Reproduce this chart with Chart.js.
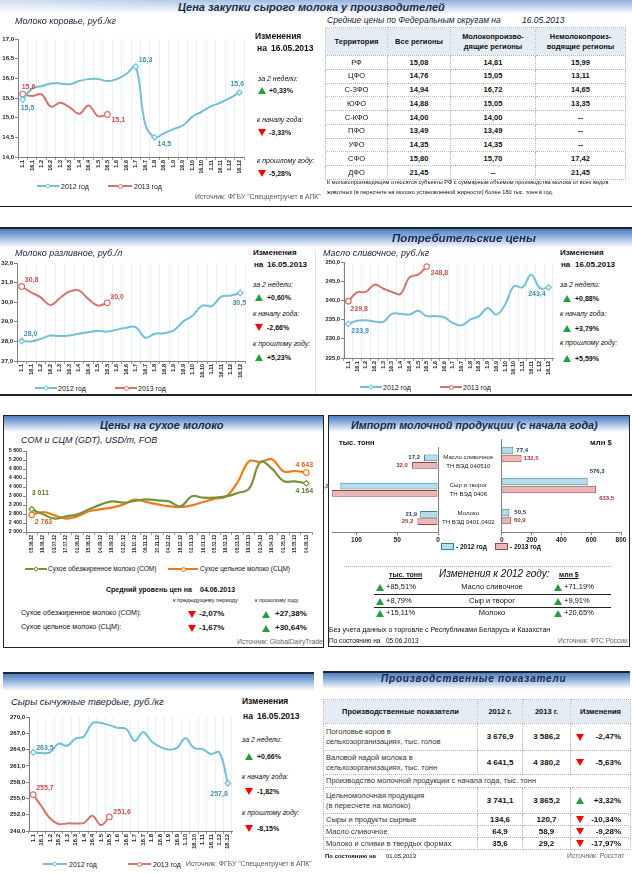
<!DOCTYPE html>
<html lang="ru"><head><meta charset="utf-8">
<script src="https://cdn.jsdelivr.net/npm/chart.js@4.4.1/dist/chart.umd.min.js"></script>
<style>
html,body{margin:0;padding:0;background:#fff;}
#page{position:relative;width:632px;height:873px;overflow:hidden;font-family:'Liberation Sans',Arial,sans-serif;color:#111;}
.a{position:absolute;white-space:nowrap;line-height:1;}
#page canvas{position:absolute;}
table.tb{position:absolute;border-collapse:collapse;table-layout:fixed;font-family:'Liberation Sans',Arial,sans-serif;color:#111;}
table.tb td{border:1px dotted #B5B5B5;padding:0;text-align:center;vertical-align:middle;white-space:nowrap;overflow:hidden;line-height:1.25;}
table.tb tr.h td{background:#E4ECF6;font-weight:bold;}
table.tb td.v{font-weight:bold;}
</style></head>
<body><div id="page">
<canvas id="cCow" width="250" height="140" style="left:0;top:33px"></canvas>
<canvas id="cBottle" width="250" height="128" style="left:0;top:257px"></canvas>
<canvas id="cButter" width="240" height="124" style="left:318px;top:256px"></canvas>
<canvas id="cDry" width="314" height="115" style="left:4px;top:445px"></canvas>
<canvas id="cImpL" width="176" height="112" style="left:324px;top:435px"></canvas>
<canvas id="cImpR" width="131" height="112" style="left:499px;top:435px"></canvas>
<canvas id="cCheese" width="238" height="150" style="left:0;top:711px"></canvas>
</div>
<script>
// ---------------- DATA ----------------
const halfMonths = ['1.1','16.1','1.2','16.2','1.3','16.3','1.4','16.4','1.5','16.5','1.6','16.6','1.7','16.7','1.8','16.8','1.9','16.9','1.10','16.10','1.11','16.11','1.12','16.12'];

const cowMilk2012 = [15.46,15.74,15.80,15.87,15.87,15.85,15.93,15.98,15.98,15.93,15.98,16.11,16.30,14.85,14.50,14.60,14.71,14.80,15.02,15.15,15.29,15.38,15.50,15.64];
const cowMilk2013 = [15.60,15.55,15.59,15.28,15.38,15.26,15.10,15.31,15.04,15.08];

const bottledMilk2012 = [28.02,28.00,28.13,28.30,28.27,28.30,28.39,28.47,28.53,28.50,28.60,28.70,28.73,28.19,28.39,28.42,28.56,29.02,29.32,29.83,29.80,30.29,30.34,30.47];
const bottledMilk2013 = [30.80,30.50,30.25,29.86,30.20,30.54,30.60,30.17,29.83,29.97];

const butter2012 = [233.9,234.7,234.8,234.5,234.4,236.5,236.5,236.3,237.3,235.9,235.9,235.6,234.1,233.5,235.0,235.9,238.0,236.3,238.9,243.7,243.4,246.7,243.2,243.4];
const butter2013 = [239.8,242.1,242.2,244.1,243.1,242.2,241.7,246.0,246.7,248.8];

const cheese2012 = [263.5,263.35,263.5,265.1,264.7,266.0,266.4,268.9,268.9,268.5,268.0,267.8,265.6,267.2,265.5,264.5,264.0,264.3,266.1,264.3,264.1,263.2,263.5,257.8];
const cheese2013 = [255.7,253.5,251.3,250.3,250.4,250.4,250.5,251.8,250.1,251.6];

const gdtDates = ['05.06.12','19.06.12','03.07.12','17.07.12','01.08.12','15.08.12','04.09.12','18.09.12','02.10.12','16.10.12','06.11.12','20.11.12','04.12.12','18.12.12','02.01.13','16.01.13','05.02.13','19.02.13','05.03.13','19.03.13','02.04.13','16.04.13','01.05.13','15.05.13','04.06.13'];
const smpPrice = [3011,2785,2593,2696,2785,3007,3215,3363,3304,3378,3452,3407,3363,3141,3585,3526,3526,3585,3733,3926,5111,4815,4267,4252,4164];
const wmpPrice = [2763,2889,2741,2593,2696,2919,3007,3081,3215,3437,3333,3230,3141,3111,3185,3333,3481,3585,4222,5141,5111,5230,4696,4711,4643];

const importCategories = [['Масло сливочное','ТН ВЭД 040510'],['Сыр и творог','ТН ВЭД 0406'],['Молоко','ТН ВЭД 0401,0402']];
const importTons2012 = [17.2,119.8,21.9];
const importTons2013 = [32.0,130.3,25.2];
const importUsd2012 = [77.4,576.3,50.5];
const importUsd2013 = [132.5,633.5,60.9];
const importNames = ['Масло сливочное','Сыр и творог','Молоко'];
const importTonsChange = ['+85,51%','+8,79%','+15,11%'];
const importUsdChange = ['+71,19%','+9,91%','+20,65%'];

const fedDistricts = ['РФ','ЦФО','С-ЗФО','ЮФО','С-КФО','ПФО','УФО','СФО','ДФО'];
const priceAllRegions = ['15,08','14,76','14,94','14,88','14,00','13,49','14,35','15,80','21,45'];
const priceMilkRegions = ['14,81','15,05','16,72','15,05','14,00','13,49','14,35','15,70','--'];
const priceNonMilkRegions = ['15,99','13,11','14,65','13,35','--','--','--','17,42','21,45'];

const prodIndicators = ['Поголовье коров в\nсельхозорганизациях, тыс. голов','Валовой надой молока в\nсельхозорганизациях, тыс. тонн','Производство молочной продукции с начала года, тыс. тонн','Цельномолочная продукция\n(в пересчете на молоко)','Сыры и продукты сырные','Масло сливочное','Молоко и сливки в твердых формах'];
const prod2012 = ['3 676,9','4 641,5',null,'3 741,1','134,6','64,9','35,6'];
const prod2013 = ['3 586,2','4 380,2',null,'3 865,2','120,7','58,9','29,2'];
const prodChange = ['-2,47%','-5,63%',null,'+3,32%','-10,34%','-9,28%','-17,97%'];

// ---------------- STYLE ----------------
const BLUE='#72C0D8', BLUEL='#3B92B2', RED='#D4736E', REDL='#C0504D';
const GREEN='#76923C', GREENL='#5E7A2E', ORANGE='#F07A1A', ORANGEL='#D2601A';
const NAVY='#1A2B4C';
const GRAD='linear-gradient(to bottom,#4F7FBE 0%,#7FA3D6 30%,#BFD2EC 65%,#FFFFFF 100%)';

const page=document.getElementById('page');
function R(x,y,w,h,bg,extra){const d=document.createElement('div');d.style.cssText=`position:absolute;left:${x}px;top:${y}px;width:${w}px;height:${h}px;`+(bg?`background:${bg};`:'')+(extra||'');page.insertBefore(d,page.firstChild);return d;}
function T(x,yc,txt,size,o){o=o||{};const d=document.createElement('div');d.className='a';d.textContent=txt;d.style.fontSize=size+'px';d.style.top=(yc-size*0.5)+'px';
 if(o.align==='center'){d.style.left=(x-300)+'px';d.style.width='600px';d.style.textAlign='center';}
 else if(o.align==='right'){d.style.right=(632-x)+'px';} else d.style.left=x+'px';
 if(o.b)d.style.fontWeight='bold'; if(o.i)d.style.fontStyle='italic'; if(o.c)d.style.color=o.c; if(o.u)d.style.textDecoration='underline'; if(o.ls)d.style.letterSpacing=o.ls+'px';
 page.appendChild(d);return d;}
function tri(x,yc,up){const d=document.createElement('div');d.style.cssText=`position:absolute;left:${x}px;top:${yc-3.5}px;width:0;height:0;border-left:4px solid transparent;border-right:4px solid transparent;`+(up?'border-bottom:7px solid #1FA23C;':'border-top:7px solid #FF0000;');page.appendChild(d);}
function leg(x,yc,w,color,mk){const l=document.createElement('div');l.style.cssText=`position:absolute;left:${x}px;top:${yc-0.8}px;width:${w}px;height:1.6px;background:${color};`;page.appendChild(l);
 const m=document.createElement('div');
 if(mk==='d'){m.style.cssText=`position:absolute;left:${x+w/2-2}px;top:${yc-2}px;width:4px;height:4px;box-sizing:border-box;border:1px solid ${color};background:#fff;transform:rotate(45deg);`;}
 else {m.style.cssText=`position:absolute;left:${x+w/2-2.5}px;top:${yc-2.5}px;width:5px;height:5px;box-sizing:border-box;border:1px solid ${color};background:#fff;border-radius:50%;`;}
 page.appendChild(m);}

// ---------------- FRAME ----------------
R(0,0,632,14,null,'background:linear-gradient(to right,rgba(255,255,255,0.6),rgba(255,255,255,0) 60%),linear-gradient(to bottom,#8FB0DD,#FFFFFF);');
R(0,206,632,1,'#111');
R(0,227,632,2,'#1B2433'); R(0,229,632,19,GRAD);
R(315,250,1,144,'#DCE6F2');
R(0,394,632,1.5,'#222');
R(3,415,321,233,null,'box-sizing:border-box;border:1px solid #222;');
R(4,416,319,16,GRAD);
R(328,415,302,232,null,'box-sizing:border-box;border:1px solid #222;');
R(329,416,300,16,GRAD);
R(3,672,311,2,'#1B2433'); R(3,674,311,17,GRAD);
R(323,671,307,2,'#1B2433'); R(323,673,307,16,GRAD);

// ---------------- CHARTS ----------------
Chart.defaults.font.family="'Liberation Sans', Arial, sans-serif";
Chart.defaults.color='#222';
const FMT={d1:v=>Number(v).toFixed(1).replace('.',','),th:v=>String(Math.round(v)).replace(/\B(?=(\d{3})+(?!\d))/g,' '),int:v=>String(v)};
const marks=(n,idx,r)=>Array.from({length:n},(_,k)=>idx.includes(k)?r:0);

const LBL={
 cCow:{font:'bold 7px "Liberation Sans"',fmt:'d1',items:[{ds:0,i:0,dx:-2,dy:8},{ds:0,i:12,dx:3,dy:-6},{ds:0,i:14,dx:3,dy:7},{ds:0,i:23,dx:-2,dy:-8,al:'center'},{ds:1,i:0,dx:-1,dy:-7},{ds:1,i:9,dx:4,dy:6}]},
 cBottle:{font:'bold 7px "Liberation Sans"',fmt:'d1',items:[{ds:0,i:0,dx:2,dy:-7},{ds:1,i:0,dx:3,dy:-6},{ds:1,i:9,dx:3,dy:-6},{ds:0,i:23,dx:-1,dy:10,al:'center'}]},
 cButter:{font:'bold 7px "Liberation Sans"',fmt:'d1',items:[{ds:0,i:0,dx:3,dy:7},{ds:1,i:0,dx:2,dy:8},{ds:1,i:9,dx:4,dy:6},{ds:0,i:23,dx:-3,dy:7,al:'right'}]},
 cDry:{font:'bold 7px "Liberation Sans"',fmt:'th',items:[{ds:0,i:0,dx:0,dy:-16},{ds:1,i:0,dx:3,dy:7},{ds:1,i:24,dx:-2,dy:-7,al:'center'},{ds:0,i:24,dx:-2,dy:8,al:'center'}]},
 cCheese:{font:'bold 7px "Liberation Sans"',fmt:'d1',items:[{ds:0,i:0,dx:3,dy:-4},{ds:1,i:0,dx:3,dy:-7},{ds:1,i:9,dx:4,dy:-5},{ds:0,i:23,dx:0,dy:11,al:'right'}]},
 cImpL:{font:'bold 6px "Liberation Sans"',fmt:'d1',items:[{ds:0,i:0,dx:-4,dy:-1,al:'right'},{ds:1,i:0,dx:-4,dy:0,al:'right'},{ds:0,i:1,dx:-11,dy:0,al:'right'},{ds:0,i:2,dx:-3,dy:0,al:'right'},{ds:1,i:2,dx:-4,dy:0,al:'right'}]},
 cImpR:{font:'bold 6px "Liberation Sans"',fmt:'d1',items:[{ds:0,i:0,dx:3,dy:0},{ds:1,i:0,dx:2,dy:0},{ds:0,i:1,dx:2,dy:-10},{ds:1,i:1,dx:3,dy:9},{ds:0,i:2,dx:5,dy:0},{ds:1,i:2,dx:3,dy:0}]}
};
Chart.register({id:'valueLabels',afterDatasetsDraw(chart){
 const cfg=LBL[chart.canvas.id]; if(!cfg)return; const ctx=chart.ctx; ctx.save(); ctx.font=cfg.font; ctx.textBaseline='middle';
 cfg.items.forEach(it=>{const ds=chart.data.datasets[it.ds]; const el=chart.getDatasetMeta(it.ds).data[it.i]; if(!el)return;
  ctx.fillStyle=ds.labelColor; ctx.textAlign=it.al||'left'; ctx.fillText(FMT[cfg.fmt](ds.data[it.i]),el.x+it.dx,el.y+it.dy);});
 ctx.restore();}});

function lineSet(data,color,lcolor,style,idx,r,lw){return {data,borderColor:color,backgroundColor:'#fff',pointBackgroundColor:'#fff',pointBorderColor:color,pointBorderWidth:1.2,pointStyle:style,pointRadius:marks(data.length,idx,r),pointHoverRadius:0,borderWidth:lw||2,tension:0.4,fill:false,labelColor:lcolor};}

function makeLine(id,labels,sets,o){
 return new Chart(document.getElementById(id),{type:'line',data:{labels,datasets:sets},
  options:{responsive:false,animation:false,events:[],
   layout:{autoPadding:false,padding:{top:o.pt,right:o.pr,left:0,bottom:0}},
   plugins:{legend:{display:false},tooltip:{enabled:false}},
   scales:{
    x:{type:'category',offset:true,
       grid:{display:true,offset:true,drawOnChartArea:!!o.vgrid,color:'#E6ECF2',tickColor:'#808080',tickLength:3,lineWidth:0.8},
       border:{color:'#808080',width:1},
       ticks:{autoSkip:false,minRotation:90,maxRotation:90,padding:0,color:'#222',font:{size:o.xfs,weight:'bold'}},
       afterFit(s){s.height=o.xh;}},
    y:{min:o.min,max:o.max,
       ticks:{autoSkip:false,stepSize:o.step,padding:1,color:'#222',font:{size:o.yfs,weight:'bold'},callback:v=>FMT[o.yfmt](v)},
       grid:{drawOnChartArea:false,tickLength:3,color:'#808080'},
       border:{color:'#808080',width:1},
       afterFit(s){s.width=o.yw;}}}}});
}

makeLine('cCow',halfMonths,[
 lineSet(cowMilk2012,BLUE,BLUEL,'rectRot',[0,12,14,23],2.8),
 lineSet(cowMilk2013,RED,REDL,'circle',[0,9],2.8)],
 {pt:6,pr:6,xh:16,yw:18,min:14,max:17,step:0.5,yfmt:'d1',xfs:5.5,yfs:6,vgrid:true});

makeLine('cBottle',halfMonths,[
 lineSet(bottledMilk2012,BLUE,BLUEL,'rectRot',[0,23],2.8),
 lineSet(bottledMilk2013,RED,REDL,'circle',[0,9],2.8)],
 {pt:6,pr:5,xh:24,yw:17,min:27,max:32,step:1,yfmt:'d1',xfs:5.5,yfs:6,vgrid:true});

makeLine('cButter',halfMonths,[
 lineSet(butter2012,BLUE,BLUEL,'rectRot',[0,23],2.8),
 lineSet(butter2013,RED,REDL,'circle',[0,9],2.8)],
 {pt:6,pr:5,xh:22,yw:26,min:225,max:250,step:5,yfmt:'d1',xfs:5.5,yfs:5.8,vgrid:true});

makeLine('cDry',gdtDates,[
 lineSet(smpPrice,GREEN,GREENL,'rectRot',[0,24],2.8,2.2),
 lineSet(wmpPrice,ORANGE,ORANGEL,'circle',[0,24],2.8,2.2)],
 {pt:6,pr:6,xh:28,yw:22,min:2000,max:5600,step:400,yfmt:'th',xfs:4.6,yfs:5.3,vgrid:false});

makeLine('cCheese',halfMonths,[
 lineSet(cheese2012,BLUE,BLUEL,'rectRot',[0,23],2.8),
 lineSet(cheese2013,RED,REDL,'circle',[0,9],2.8)],
 {pt:6,pr:6,xh:30,yw:29,min:249,max:270,step:3,yfmt:'d1',xfs:6,yfs:6,vgrid:true});

function barSet(data,bg,bd,lc){return {data,backgroundColor:bg,borderColor:bd,borderWidth:1,borderSkipped:false,categoryPercentage:0.52,barPercentage:0.92,labelColor:lc};}
const B12F='#B7DEE8',B12B='#31859C',B13F='#E6B9B8',B13B='#A5403D';
new Chart(document.getElementById('cImpL'),{type:'bar',
 data:{labels:importCategories,datasets:[barSet(importTons2012,B12F,B12B,'#23405E'),barSet(importTons2013,B13F,B13B,'#953735')]},
 options:{indexAxis:'y',responsive:false,animation:false,events:[],
  layout:{autoPadding:false,padding:{left:8,top:4,right:0,bottom:0}},
  plugins:{legend:{display:false},tooltip:{enabled:false}},
  scales:{
   x:{reverse:true,min:0,max:130,ticks:{stepSize:50,includeBounds:false,padding:1,color:'#222',font:{size:6.5,weight:'bold'},callback:v=>(v%50===0?FMT.int(v):'')},
      grid:{drawOnChartArea:false,tickLength:3,color:'#808080'},border:{color:'#808080'},afterFit(s){s.height=15;}},
   y:{position:'right',ticks:{crossAlign:'center',padding:4,color:'#222',font:{size:6.1,lineHeight:1.4}},
      grid:{drawOnChartArea:false,drawTicks:false},border:{color:'#808080'},afterFit(s){s.width=62;}}}}});
new Chart(document.getElementById('cImpR'),{type:'bar',
 data:{labels:importCategories,datasets:[barSet(importUsd2012,B12F,B12B,'#23405E'),barSet(importUsd2013,B13F,B13B,'#953735')]},
 options:{indexAxis:'y',responsive:false,animation:false,events:[],
  layout:{autoPadding:false,padding:{left:0,top:4,right:9,bottom:0}},
  plugins:{legend:{display:false},tooltip:{enabled:false}},
  scales:{
   x:{min:0,max:800,ticks:{stepSize:200,padding:1,color:'#222',font:{size:6.5,weight:'bold'},callback:v=>FMT.int(v)},
      grid:{drawOnChartArea:false,tickLength:3,color:'#808080'},border:{color:'#808080'},afterFit(s){s.height=15;}},
   y:{position:'left',ticks:{display:false},grid:{display:false},border:{color:'#808080'},afterFit(s){s.width=2;}}}}});

// ---------------- PANEL 1 TEXT ----------------
T(178,7,'Цена закупки сырого молока у производителей',11,{b:1,i:1,c:NAVY});
T(15,21,'Молоко коровье, руб./кг',9,{i:1,c:'#1A1A3A'});
T(255,36,'Изменения',8.5,{b:1}); T(257,48,'на',8.5,{b:1}); T(271,48,'16.05.2013',8.5,{b:1});
T(258,78,'за 2 недели:',7,{i:1}); tri(258,90,true); T(269,90,'+0,33%',7,{b:1});
T(257,119,'к началу года:',7,{i:1}); tri(258,132,false); T(269,132,'-3,33%',7,{b:1});
T(257,160,'к прошлому году:',7,{i:1}); tri(258,173,false); T(269,173,'-5,28%',7,{b:1});
leg(37,186,22,BLUE,'d'); T(61,186,'2012 год',7); leg(108,186,24,RED,'c'); T(134,186,'2013 год',7);
T(195,197,'Источник: ФГБУ "Спеццентручет в АПК"',6.8,{c:'#555'});

T(327,20,'Средние цены по Федеральным округам на',8.5,{i:1,c:'#1A1A3A'}); T(522,20,'16.05.2013',8.5,{i:1,c:'#1A1A3A'});
(function(){const t=document.createElement('table');t.className='tb';t.style.cssText='left:325px;top:27px;width:300px;font-size:7.5px;';
 let h='<colgroup><col style="width:62px"><col style="width:63px"><col style="width:85px"><col style="width:90px"></colgroup>';
 h+='<tr class="h" style="height:28px"><td>Территория</td><td>Все регионы</td><td>Молокопроизво-<br>дящие регионы</td><td>Немолокопроиз-<br>водящие регионы</td></tr>';
 fedDistricts.forEach((d,k)=>{h+=`<tr style="height:13.75px"><td>${d}</td><td class="v">${priceAllRegions[k]}</td><td class="v">${priceMilkRegions[k]}</td><td class="v">${priceNonMilkRegions[k]}</td></tr>`;});
 t.innerHTML=h;page.appendChild(t);})();
T(327,183,'К молокопроизводящим относятся субъекты РФ с суммарным объемом производства молока от всех видов',5.6);
T(327,193,'животных (в пересчете на молоко установленной жирности) более 180 тыс. тонн в год.',5.6);

// ---------------- PANEL 2 TEXT ----------------
T(392,238,'Потребительские цены',11.6,{b:1,i:1,c:NAVY});
T(15,253,'Молоко разливное, руб./л',9,{i:1,c:'#1A1A3A'});
T(253,253,'Изменения',8,{b:1}); T(254,265,'на',8,{b:1}); T(267,265,'16.05.2013',8,{b:1});
T(253,284,'за 2 недели:',7,{i:1}); tri(255,297,true); T(267,297,'+0,60%',7,{b:1});
T(253,313,'к началу года:',7,{i:1}); tri(255,327,false); T(267,327,'-2,66%',7,{b:1});
T(253,343,'к прошлому году:',7,{i:1}); tri(255,357,true); T(267,357,'+5,23%',7,{b:1});
leg(35,388,22,BLUE,'d'); T(58,388,'2012 год',7); leg(115,388,22,RED,'c'); T(138,388,'2013 год',7);

T(323,253,'Масло сливочное, руб./кг',9,{i:1,c:'#1A1A3A'});
T(560,253,'Изменения',8,{b:1}); T(561,265,'на',8,{b:1}); T(575,265,'16.05.2013',8,{b:1});
T(560,284,'за 2 недели:',7,{i:1}); tri(563,298,true); T(575,298,'+0,88%',7,{b:1});
T(560,313,'к началу года:',7,{i:1}); tri(563,328,true); T(575,328,'+3,79%',7,{b:1});
T(560,342,'к прошлому году:',7,{i:1}); tri(563,358,true); T(575,358,'+5,59%',7,{b:1});
leg(360,387,22,BLUE,'d'); T(383,387,'2012 год',7); leg(440,387,22,RED,'c'); T(463,387,'2013 год',7);

// ---------------- PANEL 3 TEXT ----------------
T(100,425,'Цены на сухое молоко',11,{b:1,i:1,c:NAVY});
T(21,440,'СОМ и СЦМ (GDT), USD/т, FOB',9,{i:1,c:'#1A1A3A'});
leg(25,569,22,GREEN,'d'); T(48,569,'Сухое обезжиренное молоко (СОМ)',6.5); leg(168,569,30,ORANGE,'c'); T(200,569,'Сухое цельное молоко (СЦМ)',6.5);
T(106,589,'Средний уровень цен на',7,{b:1}); T(200,589,'04.06.2013',7,{b:1});
T(173,601,'к предыдущему периоду',5.7); T(255,601,'к прошлому году',5.6);
T(21,614,'Сухое обезжиренное молоко (СОМ):',7.1); tri(188,614,false); T(199,614,'-2,07%',8,{b:1}); tri(262,614,true); T(275,614,'+27,38%',8,{b:1});
T(21,628,'Сухое цельное молоко (СЦМ):',7.1); tri(188,628,false); T(199,628,'-1,67%',8,{b:1}); tri(262,628,true); T(275,628,'+30,64%',8,{b:1});
T(237,642,'Источник: GlobalDairyTrade',6.8,{c:'#666'});

T(351,425,'Импорт молочной продукции (с начала года)',10.8,{b:1,i:1,c:NAVY});
T(339,443,'тыс. тонн',7.5,{b:1}); T(590,443,'млн $',7.8,{b:1});
R(441,543,13,7,B12F,'box-sizing:border-box;border:1px solid '+B12B+';'); T(456,547,'- 2012 год',6.5,{b:1});
R(495,543,13,7,B13F,'box-sizing:border-box;border:1px solid '+B13B+';'); T(510,547,'- 2013 год',6.5,{b:1});
R(344,566,267,0,null,'border-top:1px dotted #8DB3E2;');
T(389,574,'тыс. тонн',7,{b:1,u:1}); T(439,574,'Изменения к 2012 году:',10,{i:1}); T(559,574,'млн $',7,{b:1,u:1});
[587,601,613].forEach((y,k)=>{tri(376,y,true); T(386,y,importTonsChange[k],7.5); T(492,y,importNames[k],7.5,{align:'center'}); tri(554,y,true); T(564,y,importUsdChange[k],7.5);});
R(374,594,237,1,'#222'); R(374,607,237,1,'#222');
T(329,629,'Без учета данных о торговле с Республиками Беларусь и Казахстан',7);
T(329,641,'По состоянию на',6.5); T(386,641,'05.06.2013',6.5);
T(558,641,'Источник: ФТС России',6.7,{c:'#666'});

// ---------------- PANEL 4 TEXT ----------------
T(11,702,'Сыры сычужные твердые, руб./кг',9.5,{i:1,c:'#1A1A3A'});
T(242,701,'Изменения',8.5,{b:1}); T(243,716,'на',8.5,{b:1}); T(257,716,'16.05.2013',8.5,{b:1});
T(242,739,'за 2 недели:',7,{i:1}); tri(245,756,true); T(257,756,'+0,66%',7,{b:1});
T(242,776,'к началу года:',7,{i:1}); tri(245,791,false); T(257,791,'-1,82%',7,{b:1});
T(242,812,'к прошлому году:',7,{i:1}); tri(245,828,false); T(257,828,'-8,15%',7,{b:1});
leg(43,864,24,BLUE,'d'); T(69,864,'2012 год',7); leg(128,864,23,RED,'c'); T(153,864,'2013 год',7);
T(186,864,'Источник: ФГБУ "Спеццентручет в АПК"',6.8,{c:'#555'});

T(381,679,'Производственные показатели',10,{b:1,i:1,c:NAVY,ls:0.8});
(function(){const t=document.createElement('table');t.className='tb';t.style.cssText='left:323px;top:699px;width:307px;font-size:7.5px;';
 let h='<colgroup><col style="width:154px"><col style="width:45px"><col style="width:48px"><col style="width:60px"></colgroup>';
 h+='<tr class="h" style="height:24px"><td>Производственные показатели</td><td>2012 г.</td><td>2013 г.</td><td>Изменения</td></tr>';
 const hs=[27,24,13,26,12,12,12];
 prodIndicators.forEach((n,k)=>{
  if(prod2012[k]===null){h+=`<tr style="height:${hs[k]}px"><td colspan="4" style="text-align:left;padding-left:2px;color:#333">${n}</td></tr>`;return;}
  const up=prodChange[k].startsWith('+');
  const tr=up?'border-bottom:7px solid #1FA23C;':'border-top:7px solid #FF0000;';
  h+=`<tr style="height:${hs[k]}px"><td style="text-align:left;padding-left:2px;white-space:pre-line;color:#333;line-height:1.3">${n}</td><td class="v" style="font-size:8px">${prod2012[k]}</td><td class="v" style="font-size:8px">${prod2013[k]}</td><td class="v" style="font-size:8px;text-align:right;padding-right:9px;position:relative"><span style="position:absolute;left:5px;top:50%;margin-top:-3.5px;width:0;height:0;border-left:4px solid transparent;border-right:4px solid transparent;${tr}"></span>${prodChange[k]}</td></tr>`;
 });
 t.innerHTML=h;page.appendChild(t);})();
T(325,856,'По состоянию на',6,{b:1}); T(386,856,'01.05.2013',6);
T(567,856,'Источник: Росстат',6.8,{c:'#666'});
</script>
</body></html>
